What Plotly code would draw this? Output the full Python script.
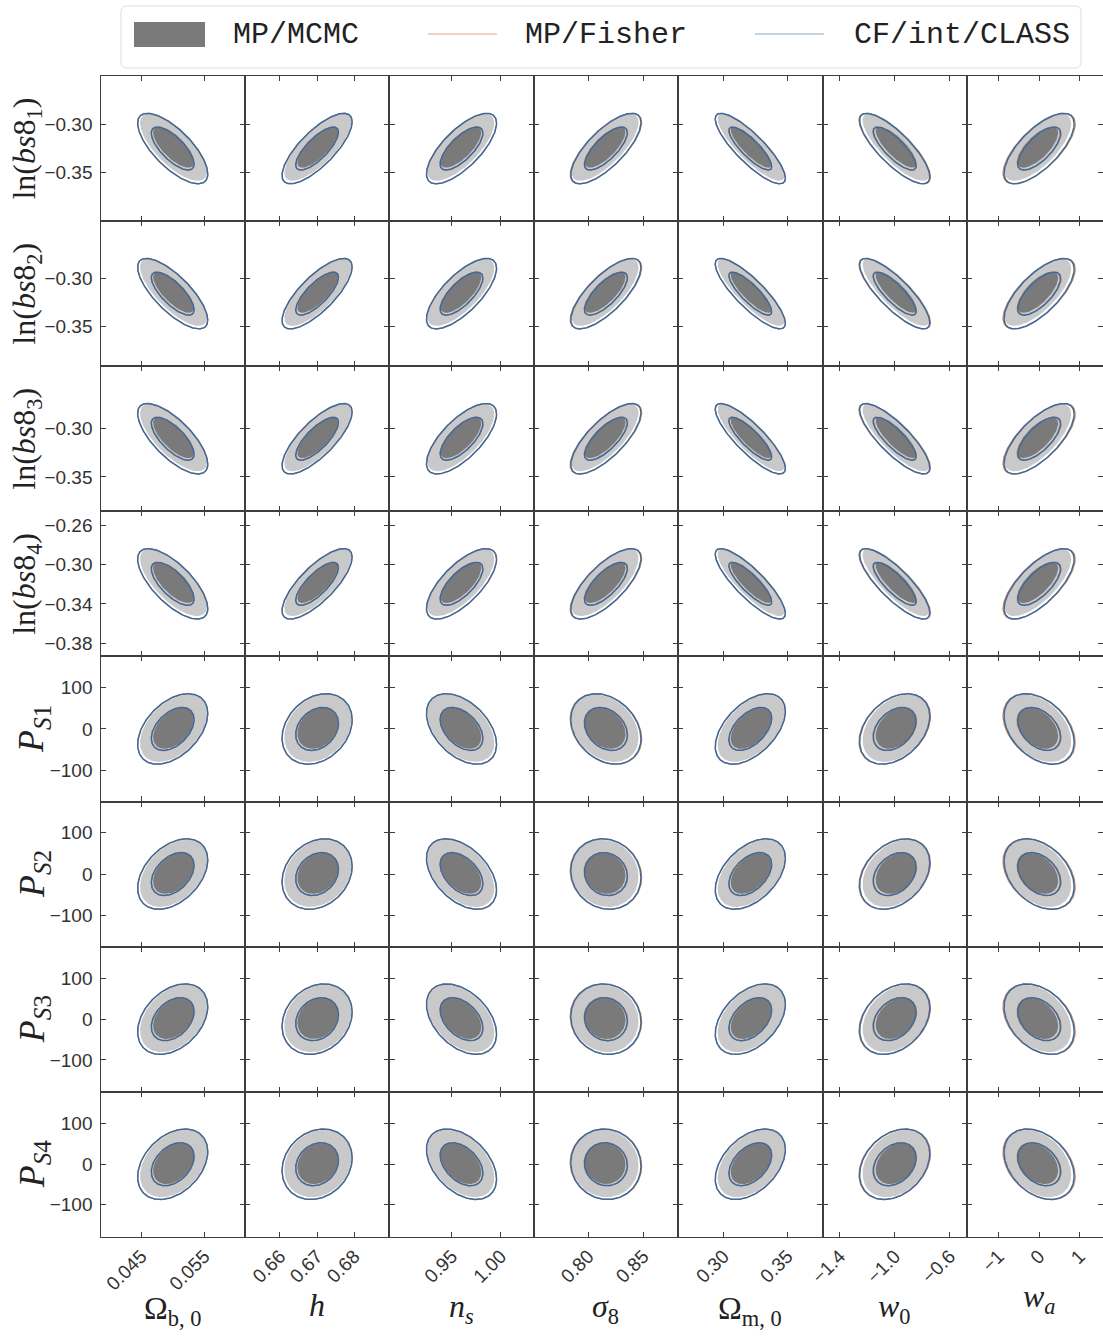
import numpy as np
import plotly.graph_objects as go

W, H = 1103, 1336

# ---------------- data ----------------
col_labels = ["Ω<sub>b, 0</sub>", "<i>h</i>", "<i>n<sub>s</sub></i>", "<i>σ</i><sub>8</sub>",
              "Ω<sub>m, 0</sub>", "<i>w</i><sub>0</sub>", "<i>w<sub>a</sub></i>"]
col_fid = [0.050, 0.670, 0.960, 0.816, 0.321, -1.0, 0.0]
col_sigma = [0.00224, 0.0038, 0.0144, 0.01283, 0.01103, 0.1026, 0.348]
col_tickvals = [[0.045, 0.055], [0.66, 0.67, 0.68], [0.95, 1.00], [0.80, 0.85],
                [0.30, 0.35], [-1.4, -1.0, -0.6], [-1, 0, 1]]
col_ticktext = [["0.045", "0.055"], ["0.66", "0.67", "0.68"], ["0.95", "1.00"], ["0.80", "0.85"],
                ["0.30", "0.35"], ["−1.4", "−1.0", "−0.6"], ["−1", "0", "1"]]

row_labels = ["ln(<i>bs</i>8<sub>1</sub>)", "ln(<i>bs</i>8<sub>2</sub>)",
              "ln(<i>bs</i>8<sub>3</sub>)", "ln(<i>bs</i>8<sub>4</sub>)",
              "<i>P</i><sub><i>S</i>1</sub>", "<i>P</i><sub><i>S</i>2</sub>",
              "<i>P</i><sub><i>S</i>3</sub>", "<i>P</i><sub><i>S</i>4</sub>"]
row_fid = [-0.3255, -0.3157, -0.3105, -0.3196, 0.0, 0.0, 0.0, 0.0]
row_sigma = [0.01475, 0.01465, 0.01465, 0.01445, 34.2, 34.0, 34.8, 35.0]
row_tickvals = [[-0.30, -0.35], [-0.30, -0.35], [-0.30, -0.35], [-0.26, -0.30, -0.34, -0.38],
                [100, 0, -100], [100, 0, -100], [100, 0, -100], [100, 0, -100]]
row_ticktext = [["−0.30", "−0.35"], ["−0.30", "−0.35"], ["−0.30", "−0.35"],
                ["−0.26", "−0.30", "−0.34", "−0.38"],
                ["100", "0", "−100"], ["100", "0", "−100"], ["100", "0", "−100"], ["100", "0", "−100"]]

# correlation coefficients (rows: bias / shot-noise params, cols: cosmology params)
rho = [
    [-0.72, 0.76, 0.72, 0.74, -0.84, -0.80, 0.70],
    [-0.75, 0.76, 0.72, 0.74, -0.84, -0.82, 0.70],
    [-0.72, 0.76, 0.70, 0.74, -0.84, -0.82, 0.70],
    [-0.70, 0.76, 0.70, 0.72, -0.84, -0.82, 0.70],
    [0.44, 0.26, -0.44, -0.28, 0.50, 0.36, -0.38],
    [0.40, 0.22, -0.45, -0.10, 0.45, 0.32, -0.36],
    [0.36, 0.20, -0.42, -0.08, 0.42, 0.32, -0.35],
    [0.36, 0.18, -0.42, -0.05, 0.42, 0.30, -0.34],
]
# Fisher forecast sigma ratio w.r.t. CLASS run (per column parameter)
fisher_ratio = [1.00, 1.00, 1.00, 1.02, 1.00, 1.02, 1.03]
# MCMC: size ratio and mean offsets (in sigma units)
mcmc_ratio = 0.955
mcmc_shift_x = [0.06, 0.05, -0.05, -0.06, 0.06, 0.10, -0.10]
mcmc_shift_y = [0.10, 0.10, 0.08, 0.10, 0.05, 0.05, 0.05, 0.05]

LEVELS = [np.sqrt(2.30), np.sqrt(6.18)]  # 68% / 95% for 2 dof

# ---------------- layout geometry ----------------
K = 5.12
col_edges = [100.5 + 144.4 * k for k in range(8)]
row_edges = [76.0 + 145.1 * k for k in range(9)]
t = np.linspace(0, 2 * np.pi, 181)

C_LIGHT = "#c9c9c9"
C_DARK = "#7a7a7a"
C_FISHER = "#d9824a"
C_CLASS = "#3d6a9e"
AX_C = "#3e3e3e"


def ellipse(cx, cy, sx, sy, r, k):
    a = k * np.cos(t)
    b = k * np.sin(t)
    x = cx + sx * a
    y = cy + sy * (r * a + np.sqrt(1 - r * r) * b)
    return list(x), list(y)


fig = go.Figure()
layout = {}
nrows, ncols = 8, 7
for r in range(nrows):
    for c in range(ncols):
        n = r * ncols + c + 1
        xa = "x" if n == 1 else f"x{n}"
        ya = "y" if n == 1 else f"y{n}"
        cx, cy = col_fid[c], row_fid[r]
        sx, sy = col_sigma[c], row_sigma[r]
        p = rho[r][c]
        # MCMC filled contours
        mcx = cx + mcmc_shift_x[c] * sx
        mcy = cy + mcmc_shift_y[r] * sy
        for k, col in ((LEVELS[1], C_LIGHT), (LEVELS[0], C_DARK)):
            ex, ey = ellipse(mcx, mcy, sx * mcmc_ratio, sy * mcmc_ratio, p, k)
            fig.add_trace(go.Scatter(x=ex, y=ey, mode="lines", fill="toself", fillcolor=col,
                                     line=dict(width=0, color=col), hoverinfo="skip",
                                     showlegend=False, xaxis=xa, yaxis=ya))
        # Fisher lines
        fx, fy = [], []
        for k in LEVELS:
            ex, ey = ellipse(cx, cy, sx * fisher_ratio[c], sy, p, k)
            fx += ex + [None]
            fy += ey + [None]
        fig.add_trace(go.Scatter(x=fx, y=fy, mode="lines", line=dict(width=1.2, color=C_FISHER),
                                 hoverinfo="skip", showlegend=False, xaxis=xa, yaxis=ya))
        # CLASS lines
        bx, by = [], []
        for k in LEVELS:
            ex, ey = ellipse(cx, cy, sx, sy, p, k)
            bx += ex + [None]
            by += ey + [None]
        fig.add_trace(go.Scatter(x=bx, y=by, mode="lines", line=dict(width=1.5, color=C_CLASS),
                                 hoverinfo="skip", showlegend=False, xaxis=xa, yaxis=ya))

        # axes
        x0p, x1p = col_edges[c], min(col_edges[c + 1], W)
        full_w = col_edges[c + 1] - col_edges[c]
        xlo = cx - K * sx
        xhi = xlo + 2 * K * sx * (x1p - x0p) / full_w
        y0p, y1p = row_edges[r], row_edges[r + 1]
        key = "" if n == 1 else str(n)
        layout[f"xaxis{key}"] = dict(
            domain=[x0p / W, x1p / W], range=[xlo, xhi], anchor=ya,
            showgrid=False, zeroline=False, showline=True, mirror="ticks",
            linecolor=AX_C, linewidth=1.1, ticks="inside", ticklen=5, tickwidth=1,
            tickcolor=AX_C, tickvals=col_tickvals[c], ticktext=col_ticktext[c],
            showticklabels=(r == nrows - 1), tickangle=-45,
            tickfont=dict(family="Liberation Sans", size=19, color="#333333"),
            automargin=False, fixedrange=True)
        layout[f"yaxis{key}"] = dict(
            domain=[1 - y1p / H, 1 - y0p / H], range=[cy - K * sy, cy + K * sy], anchor=xa,
            showgrid=False, zeroline=False, showline=True, mirror="ticks",
            linecolor=AX_C, linewidth=1.4, ticks="inside", ticklen=5, tickwidth=1,
            tickcolor=AX_C, tickvals=row_tickvals[r], ticktext=row_ticktext[r],
            showticklabels=(c == 0), ticklabelstandoff=3,
            tickfont=dict(family="Liberation Sans", size=19, color="#333333"),
            automargin=False, fixedrange=True)

annotations = []
title_font = dict(family="Liberation Serif", size=32, color="#222222")
ps_font = dict(family="Liberation Serif", size=36, color="#222222")
# y titles
for r in range(nrows):
    yc = (row_edges[r] + row_edges[r + 1]) / 2
    annotations.append(dict(text=row_labels[r], x=(27 if r < 4 else 34) / W, y=1 - yc / H,
                            xref="paper", yref="paper",
                            showarrow=False, textangle=-90, xanchor="center", yanchor="middle",
                            font=title_font if r < 4 else ps_font))
# x titles
x_title_y = [1310, 1305, 1308, 1308, 1310, 1308, 1298]
for c in range(ncols):
    xc = (col_edges[c] + col_edges[c + 1]) / 2
    annotations.append(dict(text=col_labels[c], x=xc / W, y=1 - x_title_y[c] / H, xref="paper",
                            yref="paper", showarrow=False, xanchor="center", yanchor="middle",
                            font=title_font))

# legend (drawn manually)
leg_font = dict(family="Liberation Mono", size=30, color="#222222")
legend_items = [("MP/MCMC", 231), ("MP/Fisher", 523), ("CF/int/CLASS", 852)]
for txt, xp in legend_items:
    annotations.append(dict(text=txt, x=xp / W, y=1 - 35 / H, xref="paper", yref="paper",
                            showarrow=False, xanchor="left", yanchor="middle", font=leg_font))


def px(x):
    return x / W


def py(y):
    return 1 - y / H


bx0, by0, bx1, by1, rr = 121, 6, 1081, 68, 6
path = (f"M {px(bx0 + rr)} {py(by0)} L {px(bx1 - rr)} {py(by0)} "
        f"Q {px(bx1)} {py(by0)} {px(bx1)} {py(by0 + rr)} L {px(bx1)} {py(by1 - rr)} "
        f"Q {px(bx1)} {py(by1)} {px(bx1 - rr)} {py(by1)} L {px(bx0 + rr)} {py(by1)} "
        f"Q {px(bx0)} {py(by1)} {px(bx0)} {py(by1 - rr)} L {px(bx0)} {py(by0 + rr)} "
        f"Q {px(bx0)} {py(by0)} {px(bx0 + rr)} {py(by0)} Z")
shapes = [
    dict(type="path", path=path, xref="paper", yref="paper",
         line=dict(color="#dddddd", width=1), fillcolor="white", layer="below"),
    dict(type="rect", x0=px(134), x1=px(205), y0=py(22), y1=py(47), xref="paper", yref="paper",
         line=dict(width=0), fillcolor=C_DARK),
    dict(type="line", x0=px(428), x1=px(497), y0=py(34), y1=py(34), xref="paper", yref="paper",
         line=dict(color=C_FISHER, width=1), opacity=0.7),
    dict(type="line", x0=px(755), x1=px(824), y0=py(34), y1=py(34), xref="paper", yref="paper",
         line=dict(color=C_CLASS, width=1), opacity=0.6),
]

fig.update_layout(
    width=W, height=H, margin=dict(l=0, r=0, t=0, b=0),
    paper_bgcolor="white", plot_bgcolor="white",
    annotations=annotations, shapes=shapes, showlegend=False,
    **layout,
)
fig.write_html("out.html", config={"displayModeBar": False},
               post_script="document.body.style.margin='0';document.body.style.overflow='hidden';")
